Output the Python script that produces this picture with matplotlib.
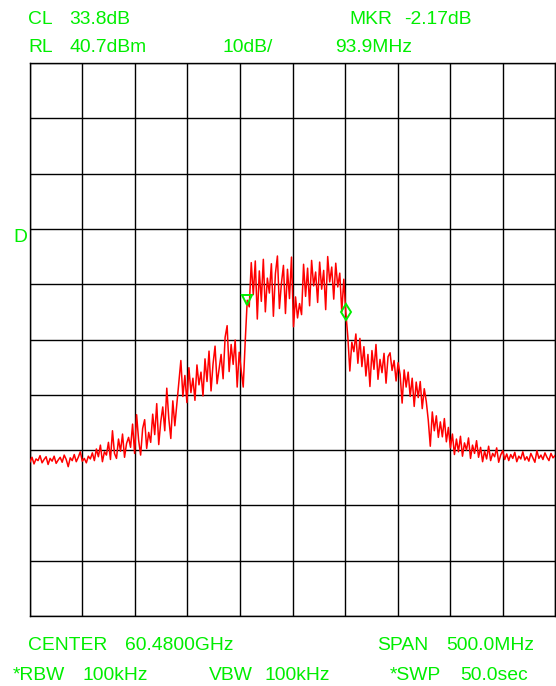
#!/usr/bin/env python3

import numpy as np
import matplotlib
matplotlib.use("Agg")
import matplotlib.pyplot as plt

# analyzer settings
center_ghz = 60.48
span_ghz = 0.5
ref_level = 40.7      # dBm, top of screen
db_per_div = 10

# sweep trace, dBm, read left to right across the span
trace_dbm = [
    -31.4, -30.6, -31.8, -30.9, -31.2, -30.3, -31.6, -31.0, -30.5, -31.9,
    -30.8, -31.3, -30.4, -31.7, -31.1, -30.6, -31.5, -30.2, -31.0, -32.3,
    -30.7, -31.2, -30.1, -31.4, -30.6, -29.6, -31.3, -30.8, -31.6, -30.4,
    -30.9, -29.8, -31.2, -29.1, -30.5, -28.4, -31.4, -29.6, -30.2, -27.9,
    -31.0, -25.8, -29.9, -30.8, -27.3, -29.5, -26.4, -30.6, -28.1, -27.0,
    -28.8, -24.6, -29.9, -22.9, -27.5, -30.2, -25.4, -23.8, -29.0, -26.1,
    -27.9, -22.8, -26.5, -20.9, -28.3, -24.2, -21.5, -25.8, -18.1, -23.6,
    -27.2, -20.4, -24.9,
    -21.0, -17.2, -13.1, -19.6, -15.8, -20.7, -14.4, -18.9, -16.3, -20.3,
    -13.9, -17.5, -15.2,
    -19.5, -12.8, -16.9, -11.4, -18.6, -13.7, -10.5, -17.3, -14.6, -12.0,
    -16.4, -8.9, -6.8, -15.1, -10.2, -13.8, -9.4, -17.9, -11.6, -14.9,
    -17.9, -9.6, -2.2, -3.4, 4.6,
    -1.2, 4.9, -5.6, 3.1, -2.4, 5.2, -4.3, 1.8, -0.9, 4.4,
    -5.1, 2.6, 5.8, -3.7, 0.9, 4.1, -4.6, 3.4, -1.9, 5.6,
    -7.0, -1.6, -5.4, -2.8,
    -4.8, 4.3, -1.5, 3.6, -3.2, 5.0, 0.4, 2.9, -2.6, 4.7,
    -0.2, 3.2, -3.9, 5.7, 1.1, 3.8, -2.0, 4.5, 0.2, 2.7,
    -4.3, 1.6,
    -4.4, -8.8, -15.0, -9.8,
    -11.5, -8.3, -13.6, -9.1,
    -14.2, -10.6, -15.9, -12.0, -17.8, -11.3, -14.7, -10.2, -16.5, -12.9,
    -15.3, -11.8,
    -17.2, -12.4, -11.7, -14.9, -13.1, -16.8, -13.5,
    -15.6, -20.8, -14.8, -17.9, -15.2, -19.6, -16.3,
    -21.4, -17.0, -19.8, -16.9, -21.8, -18.2, -20.5,
    -23.9, -28.6, -22.4, -25.8, -23.1, -27.0, -24.2, -26.9, -23.6, -27.8,
    -25.2, -28.9, -26.4, -30.1, -27.3, -29.6, -26.8, -30.4, -28.0, -29.3,
    -27.1, -30.8, -28.4, -29.9, -27.6,
    -30.6, -28.8, -31.4, -29.5, -30.9, -28.6, -31.2, -29.9, -30.5, -28.9,
    -31.5, -30.2, -29.4, -31.0, -30.0,
    -31.2, -30.1, -30.8, -29.7, -31.4, -30.4, -30.9, -29.6, -31.1, -30.5,
    -31.3, -29.9, -30.7, -31.5, -29.4, -30.8, -30.2, -31.0, -29.8, -30.6,
    -31.2, -29.9, -30.7, -30.3,
]

# marker readout
ref_marker_ghz = 60.4369
delta_mhz = 93.9
delta_db = -2.17

top_left = [("CL", 28, 19), ("33.8dB", 69, 19),
            ("RL", 28, 48), ("40.7dBm", 69, 48),
            ("10dB/", 223, 48), ("93.9MHz", 335, 48),
            ("MKR", 349, 19), ("-2.17dB", 404, 19)]
bottom = [("CENTER", 28, 646), ("60.4800GHz", 125, 646),
          ("SPAN", 377, 646), ("500.0MHz", 446, 646),
          ("*RBW", 13, 675), ("100kHz", 83, 675),
          ("VBW", 209, 675), ("100kHz", 265, 675),
          ("*SWP", 390, 675), ("50.0sec", 460, 675)]

W, H = 556, 686
green = "#00ee00"
plt.rcParams["font.family"] = ["Liberation Sans", "DejaVu Sans"]

fig = plt.figure(figsize=(W / 100, H / 100), dpi=100)
fig.patch.set_facecolor("white")
ax = fig.add_axes([30 / W, (H - 616) / H, 525 / W, 553 / H])

f_start = center_ghz - span_ghz / 2
f_stop = center_ghz + span_ghz / 2
freqs = np.linspace(f_start, f_stop, len(trace_dbm))
ax.plot(freqs, trace_dbm, color="red", lw=1.1, zorder=3)

ref_y = np.interp(ref_marker_ghz, freqs, trace_dbm)
ax.plot(ref_marker_ghz, ref_y, marker="v", ms=6.5, mfc="none", mec=green,
        mew=1.4, zorder=4)
ax.plot(ref_marker_ghz + delta_mhz / 1000, ref_y + delta_db, marker="d",
        ms=8, mfc="none", mec=green, mew=1.4, zorder=4)

ax.set_xlim(f_start, f_stop)
ax.set_ylim(ref_level - 10 * db_per_div, ref_level)
ax.set_xticks(np.linspace(f_start, f_stop, 11))
ax.set_yticks(np.linspace(ref_level - 10 * db_per_div, ref_level, 11))
ax.grid(True, color="black", lw=1.0)
ax.tick_params(length=0, labelbottom=False, labelleft=False)
for s in ax.spines.values():
    s.set_color("black")
    s.set_linewidth(1.0)

for txt, x, y in top_left + bottom:
    fig.text(x / W, 1 - y / H, txt, color=green, fontsize=13.9,
             ha="left", va="center")
fig.text(13 / W, 1 - 238 / H, "D", color=green, fontsize=13.9,
         ha="left", va="center")

fig.savefig("out.png", dpi=100)
